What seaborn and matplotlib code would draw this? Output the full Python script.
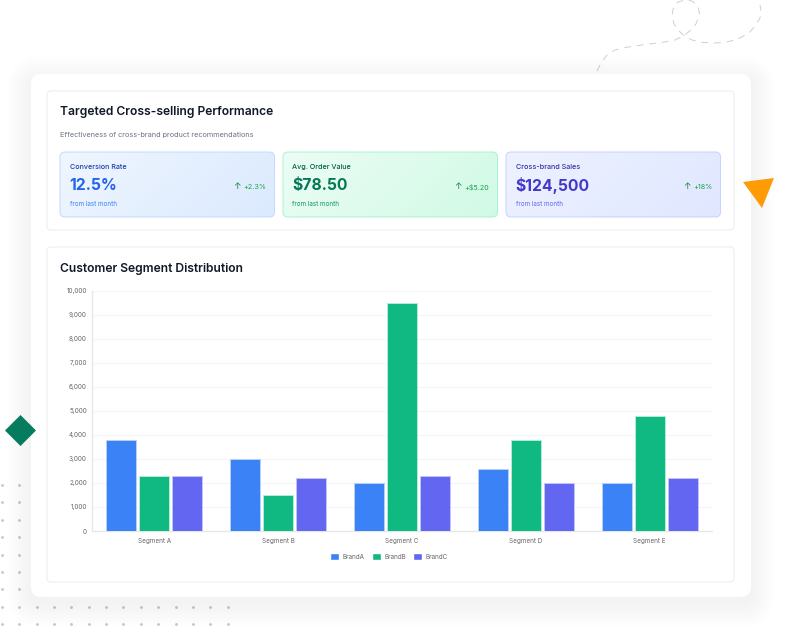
import numpy as np
import pandas as pd
import matplotlib
matplotlib.use("Agg")
import matplotlib.pyplot as plt
import seaborn as sns
from matplotlib.patches import FancyBboxPatch, Polygon
from matplotlib.ticker import FuncFormatter

segments = ["Segment A", "Segment B", "Segment C", "Segment D", "Segment E"]
brand_a = [3800, 3000, 2000, 2600, 2000]
brand_b = [2300, 1500, 9500, 3800, 4800]
brand_c = [2300, 2200, 2300, 2000, 2200]
brand_names = ["BrandA", "BrandB", "BrandC"]
brand_colors = ["#3b82f6", "#10b981", "#6366f1"]
brand_edges = ["#b5d0fb", "#b4ecd8", "#c3c4fa"]

metric_labels = ["Conversion Rate", "Avg. Order Value", "Cross-brand Sales"]
metric_values = ["12.5%", "$78.50", "$124,500"]
metric_deltas = ["+2.3%", "+$5.20", "+18%"]

W, H = 785, 626

sns.set_style("white")
plt.rcParams["font.family"] = ["Inter", "DejaVu Sans"]


def rounded(ax, x0, y0, x1, y1, r, **kw):
    patch = FancyBboxPatch((x0 + r, y0 + r), x1 - x0 - 2 * r, y1 - y0 - 2 * r,
                           boxstyle=f"round,pad={r},rounding_size={r}", **kw)
    ax.add_patch(patch)
    return patch


def gradient_card(ax, x0, y0, x1, y1, c_start, c_end, border):
    #diagonal gradient clipped to the rounded box
    a = np.array(matplotlib.colors.to_rgb(c_start))
    b = np.array(matplotlib.colors.to_rgb(c_end))
    u, v = np.meshgrid(np.linspace(0, 1, 120), np.linspace(0, 1, 60))
    t = ((u * (x1 - x0) + v * (y1 - y0)) / ((x1 - x0) + (y1 - y0)))[..., None]
    im = ax.imshow(a + (b - a) * t, extent=(x0, x1, y1, y0), zorder=3,
                   aspect="auto", interpolation="bilinear")
    box = rounded(ax, x0, y0, x1, y1, 5, fc="none", ec=border, lw=0.7, zorder=4)
    im.set_clip_path(box)


fig = plt.figure(figsize=(W / 100, H / 100), dpi=100, facecolor="white")

#page layer in pixel coordinates
bg = fig.add_axes([0, 0, 1, 1])
bg.set_xlim(0, W)
bg.set_ylim(H, 0)
bg.axis("off")

#dot pattern
dot_x = np.arange(1.7, 230, 17.4)
dot_y = np.arange(485, 626, 17.4)
gx, gy = np.meshgrid(dot_x, dot_y)
bg.scatter(gx.ravel(), gy.ravel(), s=4.5, color="#cbcbcb", linewidths=0, zorder=1)

#dashed decoration
curve = [(597, 71), (601, 63), (607, 55), (615, 50), (628, 47), (645, 44.5), (662, 42.5), (675, 40),
         (684, 35.5), (691, 30), (696, 24), (699.5, 14), (698, 6), (692, 1), (685, 0), (678, 2),
         (673, 9), (672, 16), (674, 24), (679, 31), (684, 35.5), (692, 40), (703, 42.5), (715, 43),
         (727, 42), (738, 39), (749, 33), (756, 25), (760, 18), (761, 11), (760, 5)]
bg.plot([p[0] for p in curve], [p[1] for p in curve], color="#cfcfcf", lw=0.7,
        ls=(0, (7, 6)), zorder=1)

#main card with soft shadow
for grow in range(24, 0, -2):
    rounded(bg, 31 - grow, 74 - grow + 6, 751 + grow, 597 + grow + 6, 10 + grow,
            fc="black", ec="none", alpha=0.0032, zorder=1.5)
rounded(bg, 31, 74, 751, 597, 10, fc="white", ec="none", zorder=2)
rounded(bg, 47, 91, 734, 230, 4, fc="white", ec="#eceef0", lw=0.8, zorder=2.5)
rounded(bg, 47, 247, 734, 582, 4, fc="white", ec="#eceef0", lw=0.8, zorder=2.5)

#shapes sit on top of the card edge
bg.add_patch(Polygon([(743, 182), (774, 178), (762, 208)], fc="#ff9b05", ec="none", zorder=6))
bg.add_patch(Polygon([(20.5, 415), (36, 430.5), (20.5, 446), (5, 430.5)], fc="#067c5e", ec="none", zorder=6))

bg.text(60, 112.5, "Targeted Cross-selling Performance", fontsize=8.7, fontweight="semibold",
        color="#111827", va="center", zorder=5)
bg.text(60, 134.5, "Effectiveness of cross-brand product recommendations", fontsize=5.25,
        color="#6b7280", va="center", zorder=5)
bg.text(60, 269, "Customer Segment Distribution", fontsize=8.7, fontweight="semibold",
        color="#111827", va="center", zorder=5)

#metric cards
card_lefts = [60, 283, 506]
card_starts = ["#eff6ff", "#ecfdf5", "#eef2ff"]
card_ends = ["#dbeafe", "#d1fae5", "#e0e7ff"]
card_borders = ["#bfdbfe", "#a7f3d0", "#c7d2fe"]
label_colors = ["#1e40af", "#065f46", "#3730a3"]
value_colors = ["#2563eb", "#047857", "#4338ca"]
from_colors = ["#3b82f6", "#059669", "#6366f1"]
renderer = fig.canvas.get_renderer()

for i, left in enumerate(card_lefts):
    right = left + 214.5
    gradient_card(bg, left, 152, right, 217, card_starts[i], card_ends[i], card_borders[i])
    bg.text(left + 9.5, 167, metric_labels[i], fontsize=5.2, fontweight="medium",
            color=label_colors[i], va="center", zorder=5)
    bg.text(left + 9.5, 185.5, metric_values[i], fontsize=11.3, fontweight="bold",
            color=value_colors[i], va="center", zorder=5)
    bg.text(left + 9.5, 203.5, "from last month", fontsize=4.5,
            color=from_colors[i], va="center", zorder=5)
    delta = bg.text(right - 8.5, 187, metric_deltas[i], fontsize=5.2, color="#16a34a", ha="right",
                    va="center", zorder=5)
    delta_left = delta.get_window_extent(renderer).x0
    bg.text(delta_left - 6.5, 186.5, "\u2191", fontsize=6.5, color="#15803d", ha="center",
            va="center", zorder=5)
bg.set_xlim(0, W)
bg.set_ylim(H, 0)

#bar chart
ax = fig.add_axes([92.4 / W, 1 - 531 / H, (711.6 - 92.4) / W, (531 - 291) / H])
ax.set_facecolor("none")
chart_df = pd.DataFrame({"segment": segments, "BrandA": brand_a, "BrandB": brand_b, "BrandC": brand_c})
chart_df = chart_df.melt(id_vars="segment", var_name="brand", value_name="customers")
sns.barplot(data=chart_df, x="segment", y="customers", hue="brand", hue_order=brand_names,
            palette=brand_colors, width=0.8, gap=0.09, saturation=1, ax=ax, zorder=3)
for container, edge in zip(ax.containers, brand_edges):
    for bar in container:
        bar.set_edgecolor(edge)
        bar.set_linewidth(0.7)

ax.set_ylim(0, 10000)
ax.set_xlim(-0.5, 4.5)
ax.set_yticks(range(0, 10001, 1000))
ax.yaxis.set_major_formatter(FuncFormatter(lambda v, _: f"{int(v):,}"))
ax.set_xlabel("")
ax.set_ylabel("")
ax.grid(axis="y", color="#f4f5f6", lw=0.9, zorder=0)
ax.grid(axis="x", visible=False)
ax.set_axisbelow(True)
ax.tick_params(axis="both", length=0, labelsize=4.6, labelcolor="#666666")
ax.tick_params(axis="y", pad=4)
ax.tick_params(axis="x", pad=5)
for side in ["top", "right"]:
    ax.spines[side].set_visible(False)
for side in ["left", "bottom"]:
    ax.spines[side].set_color("#e5e7eb")
    ax.spines[side].set_linewidth(0.9)

handles, labels = ax.get_legend_handles_labels()
ax.legend(handles, labels, loc="upper center", bbox_to_anchor=(0.479, -0.09), ncol=3, frameon=False,
          fontsize=4.6, labelcolor="#666666", handlelength=1.35, handleheight=1.5,
          handletextpad=0.55, columnspacing=1.2, borderpad=0, borderaxespad=0)

fig.savefig("out.png", dpi=100)
